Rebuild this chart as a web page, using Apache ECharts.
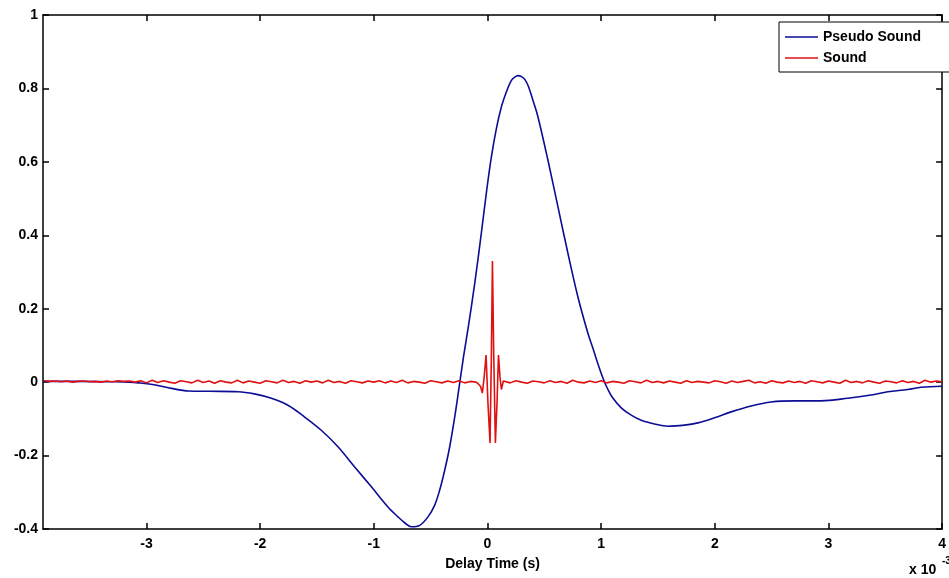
<!DOCTYPE html>
<html>
<head>
<meta charset="utf-8">
<script src="https://cdn.jsdelivr.net/npm/echarts@6/dist/echarts.min.js"></script>
<style>
html,body{margin:0;padding:0;background:#fff;}
#chart{width:949px;height:578px;}
</style>
</head>
<body>
<div id="chart"></div>
<script>
// ---- Data (time in ms, i.e. x 10^-3 s) ----
const seriesNames = ['Pseudo Sound', 'Sound'];
const xTicks = [-3, -2, -1, 0, 1, 2, 3, 4];
const yTicks = [-0.4, -0.2, 0, 0.2, 0.4, 0.6, 0.8, 1];

const pseudoX = [-3.91,-3.6,-3.3,-3.15,-3.07,-2.92,-2.78,-2.63,-2.45,-2.194,-2.05,-1.901,-1.755,-1.608,-1.462,-1.315,-1.168,-1.021,-0.875,-0.787,-0.728,-0.67,-0.596,-0.523,-0.464,-0.42,-0.376,-0.332,-0.288,-0.253,-0.21,-0.168,-0.11,-0.052,-0.008,0.035,0.079,0.123,0.167,0.211,0.24,0.27,0.30,0.33,0.36,0.40,0.444,0.532,0.62,0.708,0.796,0.884,0.93,0.972,1.02,1.06,1.10,1.177,1.265,1.353,1.47,1.588,1.734,1.851,1.998,2.144,2.32,2.496,2.7,2.934,3.17,3.375,3.522,3.698,3.815,4.0];
const pseudoY = [0.002,0.002,0.001,0.000,-0.002,-0.008,-0.017,-0.024,-0.025,-0.026,-0.032,-0.044,-0.063,-0.095,-0.131,-0.176,-0.231,-0.285,-0.34,-0.367,-0.383,-0.394,-0.39,-0.367,-0.335,-0.294,-0.24,-0.176,-0.095,-0.022,0.07,0.151,0.273,0.41,0.519,0.614,0.691,0.75,0.791,0.822,0.831,0.835,0.832,0.824,0.806,0.768,0.723,0.605,0.478,0.351,0.232,0.133,0.09,0.05,0.008,-0.02,-0.042,-0.07,-0.09,-0.104,-0.114,-0.12,-0.117,-0.111,-0.097,-0.081,-0.065,-0.054,-0.051,-0.051,-0.044,-0.035,-0.026,-0.02,-0.014,-0.011];

const soundX = [-3.90,-3.85,-3.80,-3.75,-3.70,-3.65,-3.60,-3.55,-3.50,-3.45,-3.40,-3.35,-3.30,-3.25,-3.20,-3.15,-3.10,-3.05,-3.00,-2.95,-2.90,-2.85,-2.80,-2.75,-2.70,-2.65,-2.60,-2.55,-2.50,-2.45,-2.40,-2.35,-2.30,-2.25,-2.20,-2.15,-2.10,-2.05,-2.00,-1.95,-1.90,-1.85,-1.80,-1.75,-1.70,-1.65,-1.60,-1.55,-1.50,-1.45,-1.40,-1.35,-1.30,-1.25,-1.20,-1.15,-1.10,-1.05,-1.00,-0.95,-0.90,-0.85,-0.80,-0.75,-0.70,-0.65,-0.60,-0.55,-0.50,-0.45,-0.40,-0.35,-0.30,-0.25,-0.20,-0.15,-0.10,
 -0.08,-0.06,-0.045,-0.03,-0.012,0.005,0.023,0.035,0.044,0.055,0.07,0.085,0.097,0.11,0.123,0.14,
 0.20,0.25,0.30,0.35,0.40,0.45,0.50,0.55,0.60,0.65,0.70,0.75,0.80,0.85,0.90,0.95,1.00,1.05,1.10,1.15,1.20,1.25,1.30,1.35,1.40,1.45,1.50,1.55,1.60,1.65,1.70,1.75,1.80,1.85,1.90,1.95,2.00,2.05,2.10,2.15,2.20,2.25,2.30,2.35,2.40,2.45,2.50,2.55,2.60,2.65,2.70,2.75,2.80,2.85,2.90,2.95,3.00,3.05,3.10,3.15,3.20,3.25,3.30,3.35,3.40,3.45,3.50,3.55,3.60,3.65,3.70,3.75,3.80,3.85,3.90,3.95,4.00];
const soundY = [0.004,0.002,0.003,0.001,0.003,0.000,0.002,0.003,0.001,0.002,0.000,0.003,0.001,0.004,0.002,0.003,0.000,0.004,-0.002,0.005,-0.001,0.004,0.000,-0.003,0.004,0.001,-0.002,0.005,-0.001,0.003,-0.003,0.004,0.000,-0.002,0.005,-0.002,0.003,0.000,-0.003,0.004,0.001,-0.002,0.005,-0.001,0.002,-0.003,0.004,0.000,0.003,-0.002,0.005,-0.001,0.002,-0.003,0.004,0.001,-0.002,0.003,0.000,0.004,-0.002,0.003,-0.001,0.005,-0.002,0.002,0.000,-0.003,0.004,0.001,-0.002,0.003,-0.001,0.004,-0.002,0.002,0.000,
 -0.005,-0.012,-0.03,0.01,0.074,-0.06,-0.166,0.08,0.33,0.08,-0.166,-0.05,0.074,0.015,-0.02,0.003,
 -0.002,0.004,0.000,-0.003,0.003,0.001,-0.002,0.004,-0.001,0.002,-0.003,0.005,0.000,-0.002,0.003,-0.001,0.004,-0.002,0.002,0.000,-0.003,0.004,0.001,-0.002,0.005,-0.001,0.002,-0.002,0.003,0.000,-0.003,0.004,-0.001,0.002,0.000,-0.002,0.004,0.001,-0.003,0.003,-0.001,0.002,0.005,-0.002,0.001,-0.003,0.004,0.000,-0.002,0.003,-0.001,0.002,-0.003,0.004,0.001,-0.002,0.003,0.000,-0.003,0.005,-0.001,0.002,-0.002,0.004,0.000,-0.003,0.003,0.001,-0.002,0.004,-0.001,0.002,-0.003,0.005,0.000,0.003,0.001];

const xMin = -3.91, xMax = 4;
const yMin = -0.4, yMax = 1;

const pair = (xs, ys) => xs.map((x, i) => [x, ys[i]]);

const FONT = 'Liberation Sans, Arial, sans-serif';
const lineStyle = { color: '#000', width: 1.5 };
const labelStyle = { color: '#000', fontFamily: FONT, fontWeight: 'bold', fontSize: 14 };
const BLUE = '#0c0c96', RED = '#e01010';
// thin horizontal bar icon (padded with move-to points so it keeps a 33x14 box)
const lineIcon = 'path://M0,0 M0,6.25 L33,6.25 L33,7.75 L0,7.75 Z M33,14';

const chart = echarts.init(document.getElementById('chart'), null, { renderer: 'canvas' });
chart.setOption({
  animation: false,
  backgroundColor: '#fff',
  grid: { left: 43, right: 4, top: 15, bottom: 49, containLabel: false },
  legend: {
    data: seriesNames.map(n => ({ name: n, icon: lineIcon })),
    orient: 'vertical',
    left: 779, top: 22,
    padding: [8, 30, 7, 6],
    itemGap: 7,
    itemWidth: 33, itemHeight: 14,
    backgroundColor: '#fff',
    borderColor: '#000', borderWidth: 1,
    textStyle: { color: '#000', fontFamily: FONT, fontWeight: 'bold', fontSize: 14 }
  },
  xAxis: [{
    type: 'value', min: xMin, max: xMax, position: 'bottom',
    name: 'Delay Time (s)', nameLocation: 'middle', nameGap: 28,
    nameTextStyle: labelStyle,
    axisLine: { show: true, onZero: false, lineStyle },
    axisTick: { show: true, inside: true, length: 6, lineStyle, customValues: xTicks },
    axisLabel: Object.assign({ margin: 8, customValues: xTicks, formatter: v => String(v) }, labelStyle),
    splitLine: { show: false }
  }, {
    type: 'value', min: xMin, max: xMax, position: 'top',
    axisLine: { show: true, onZero: false, lineStyle },
    axisTick: { show: true, inside: true, length: 6, lineStyle, customValues: xTicks },
    axisLabel: { show: false },
    splitLine: { show: false }
  }],
  yAxis: [{
    type: 'value', min: yMin, max: yMax, interval: 0.2, position: 'left',
    axisLine: { show: true, onZero: false, lineStyle },
    axisTick: { show: true, inside: true, length: 6, lineStyle },
    axisLabel: Object.assign({ margin: 5, formatter: v => String(Math.round(v * 10) / 10) }, labelStyle),
    splitLine: { show: false }
  }, {
    type: 'value', min: yMin, max: yMax, interval: 0.2, position: 'right',
    axisLine: { show: true, onZero: false, lineStyle },
    axisTick: { show: true, inside: true, length: 6, lineStyle },
    axisLabel: { show: false },
    splitLine: { show: false }
  }],
  graphic: [
    { type: 'text', left: 909, top: 563, style: { text: 'x 10', fill: '#000', font: 'bold 14px ' + FONT } },
    { type: 'text', left: 942, top: 556, style: { text: '-3', fill: '#000', font: 'bold 10px ' + FONT } }
  ],
  series: [{
    name: seriesNames[0], type: 'line', xAxisIndex: 0, yAxisIndex: 0,
    data: pair(pseudoX, pseudoY), smooth: 0.35, symbol: 'none', showSymbol: false,
    lineStyle: { color: BLUE, width: 1.6 }, itemStyle: { color: BLUE }
  }, {
    name: seriesNames[1], type: 'line', xAxisIndex: 0, yAxisIndex: 0,
    data: pair(soundX, soundY), smooth: false, symbol: 'none', showSymbol: false,
    lineStyle: { color: RED, width: 1.6 }, itemStyle: { color: RED }
  }]
});
</script>
</body>
</html>
